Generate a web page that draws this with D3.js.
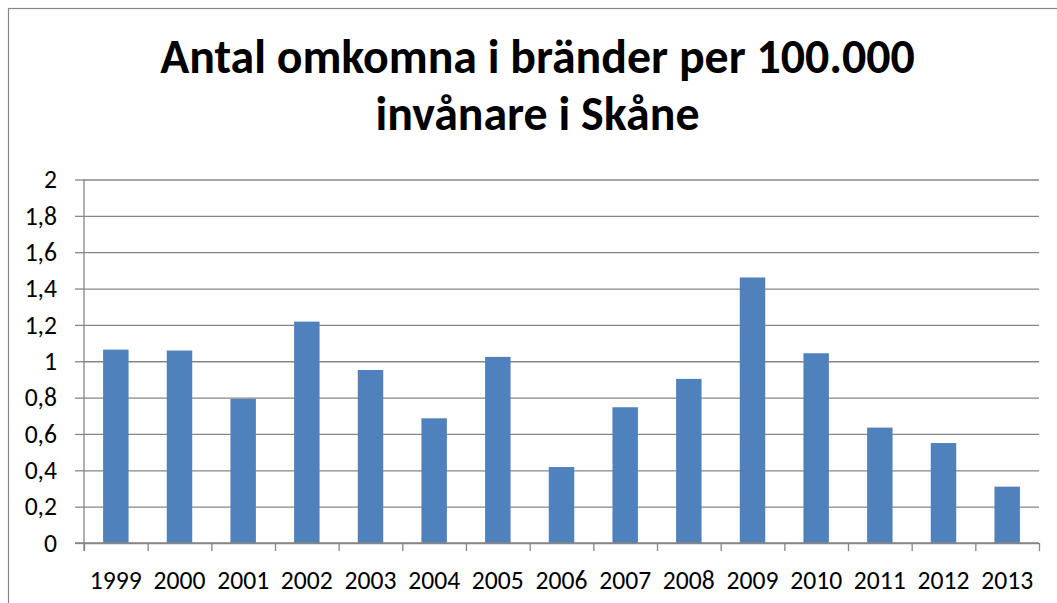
<!DOCTYPE html>
<html>
<head>
<meta charset="utf-8">
<script src="https://cdn.jsdelivr.net/npm/d3@7"></script>
<style>
  body { margin: 0; background: #fff; }
  svg { display: block; }
  text { font-family: Calibri, Carlito, Lato, sans-serif; fill: #000; }
</style>
</head>
<body>
<div class="svg-container"></div>
<script>
var years = ["1999","2000","2001","2002","2003","2004","2005","2006","2007","2008","2009","2010","2011","2012","2013"];
var values = [1.064, 1.059, 0.793, 1.218, 0.952, 0.686, 1.024, 0.418, 0.747, 0.903, 1.461, 1.044, 0.635, 0.550, 0.310];
var yTicks = [0, 0.2, 0.4, 0.6, 0.8, 1, 1.2, 1.4, 1.6, 1.8, 2];
var titleLines = ["Antal omkomna i bränder per 100.000", "invånare i Skåne"];

var w = 1057, h = 603;
var plotLeft = 84, plotRight = 1039, plotTop = 179.5, plotBottom = 543;
var gridColor = "#868686";

var svg = d3.select(".svg-container")
    .append("svg")
    .attr("width", w)
    .attr("height", h);

// chart border (cut at right / bottom like the screenshot)
svg.append("rect")
    .attr("x", 8.5).attr("y", 8.5)
    .attr("width", 1100).attr("height", 700)
    .attr("fill", "none")
    .attr("stroke", gridColor)
    .attr("stroke-width", 1.2);

// title
var title = svg.append("g").attr("class", "title");
var baselines = [72.7, 130];
titleLines.forEach(function(t, i) {
    title.append("text")
        .attr("x", 537.5)
        .attr("y", baselines[i])
        .attr("text-anchor", "middle")
        .attr("font-weight", "bold")
        .attr("font-size", 42)
        .text(t);
});
// fit first line to ~755px wide
var firstW = title.select("text").node().getComputedTextLength();
title.selectAll("text").attr("font-size", 42 * 755 / firstW);

// label size: "1999" is ~52px wide in the reference
var probe = svg.append("text").attr("font-size", 22).text("1999");
var labelSize = 22 * 52 / probe.node().getComputedTextLength();
probe.remove();

var y = d3.scaleLinear()
    .domain([0, 2])
    .range([plotBottom, plotTop]);

var x = d3.scaleBand()
    .domain(years)
    .range([plotLeft, plotRight])
    .paddingInner(0.6)
    .paddingOuter(0.3);

var xEdge = d3.scaleLinear()
    .domain([0, years.length])
    .range([plotLeft, plotRight]);

// gridlines
var grid = svg.append("g")
    .attr("transform", "translate(" + plotLeft + ",0)")
    .call(d3.axisLeft(y).tickValues(yTicks).tickSize(-(plotRight - plotLeft)).tickFormat(""));
grid.select(".domain").remove();
grid.selectAll("line").attr("stroke", gridColor).attr("stroke-width", 1.3);

// y axis with labels
var yAxis = svg.append("g")
    .attr("transform", "translate(" + plotLeft + ",0)")
    .call(d3.axisLeft(y)
        .tickValues(yTicks)
        .tickSize(9)
        .tickPadding(18)
        .tickFormat(function(d) { return d3.format("~g")(d).replace(".", ","); }));
yAxis.select(".domain").attr("stroke", gridColor).attr("stroke-width", 1.3)
    .attr("d", "M0," + plotTop + "V" + (plotBottom + 8));
yAxis.selectAll("line").attr("stroke", gridColor).attr("stroke-width", 1.3);
yAxis.selectAll("text")
    .attr("font-size", labelSize)
    .attr("fill", "#000");

// bars
svg.append("g")
    .selectAll("rect")
    .data(values)
    .enter().append("rect")
    .attr("x", function(d, i) { return x(years[i]); })
    .attr("y", function(d) { return y(d); })
    .attr("width", x.bandwidth())
    .attr("height", function(d) { return y(0) - y(d); })
    .attr("fill", "#4F81BD");

// x axis baseline + boundary ticks
var xTicks = svg.append("g")
    .attr("transform", "translate(0," + plotBottom + ")")
    .call(d3.axisBottom(xEdge).tickValues(d3.range(0, years.length + 1)).tickSize(8).tickFormat("").tickSizeOuter(0));
xTicks.select(".domain").attr("stroke", gridColor).attr("stroke-width", 1.3)
    .attr("d", "M" + (plotLeft - 9) + ",0H" + plotRight);
xTicks.selectAll("line").attr("stroke", gridColor).attr("stroke-width", 1.3);

// x labels
var xAxis = svg.append("g")
    .attr("transform", "translate(0," + plotBottom + ")")
    .call(d3.axisBottom(x).tickSize(0).tickPadding(28));
xAxis.select(".domain").remove();
xAxis.selectAll("text")
    .attr("font-size", labelSize)
    .attr("fill", "#000");
</script>
</body>
</html>
